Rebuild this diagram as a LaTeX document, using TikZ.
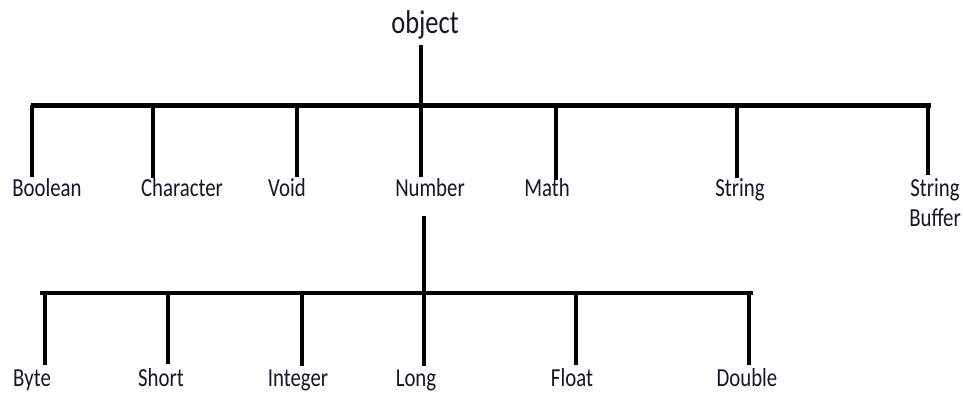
\documentclass[tikz,border=0pt]{standalone}
\usepackage{fontspec}
\usepackage{graphicx}
\setmainfont{Carlito}
\definecolor{ink}{RGB}{22,22,42}
\newcommand\sqz[1]{\scalebox{0.8}[1]{#1}}
\begin{document}
\begin{tikzpicture}[x=1pt,y=-1pt,
  lbl/.style={anchor=base,inner sep=0pt,text=ink,font=\fontsize{26}{30}\selectfont},
  toplbl/.style={anchor=base,inner sep=0pt,text=ink,font=\fontsize{33}{36}\selectfont},
  bar/.style={line width=5pt},
  stem/.style={line width=3.6pt}]
\useasboundingbox[fill=white] (0,0) rectangle (963,392);

% root
\node[toplbl] (object) at (425,33) {\sqz{object}};
\coordinate (objBot) at (421,45);
\coordinate (jNum) at (421,105);
\coordinate (barL) at (31,105);
\coordinate (barR) at (931,105);

% level 1 junctions and stem ends
\coordinate (jBool) at (32,105);   \coordinate (eBool) at (32,177);
\coordinate (jChar) at (153,105);  \coordinate (eChar) at (153,178);
\coordinate (jVoid) at (297,105);  \coordinate (eVoid) at (297,177);
\coordinate (eNum) at (421,177);
\coordinate (jMath) at (556,105);  \coordinate (eMath) at (556,180);
\coordinate (jStr) at (737,105);   \coordinate (eStr) at (737,178);
\coordinate (jSB) at (928,105);    \coordinate (eSB) at (928,175);

\node[lbl] (Boolean) at (47,196) {\sqz{Boolean}};
\node[lbl] (Character) at (182,196) {\sqz{Character}};
\node[lbl] (Void) at (287,196) {\sqz{Void}};
\node[lbl] (Number) at (430,196) {\sqz{Number}};
\node[lbl] (Math) at (547,196) {\sqz{Math}};
\node[lbl] (String) at (740,196) {\sqz{String}};
\node[lbl] (SBa) at (935,196) {\sqz{String}};
\node[lbl] (SBb) at (935,226) {\sqz{Buffer}};

\draw[stem] (objBot) -- (jNum);
\draw[bar] (barL) -- (barR);
\draw[stem] (jBool) -- (eBool);
\draw[stem] (jChar) -- (eChar);
\draw[stem] (jVoid) -- (eVoid);
\draw[stem] (jNum) -- (eNum);
\draw[stem] (jMath) -- (eMath);
\draw[stem] (jStr) -- (eStr);
\draw[stem] (jSB) -- (eSB);

% level 2
\coordinate (numBot) at (424,216);
\coordinate (jLong) at (424,293);
\coordinate (bar2L) at (40,293);
\coordinate (bar2R) at (753,293);
\coordinate (jByte) at (45,293);    \coordinate (eByte) at (45,365);
\coordinate (jShort) at (168,293);  \coordinate (eShort) at (168,364);
\coordinate (jInt) at (302,293);    \coordinate (eInt) at (302,366);
\coordinate (eLong) at (424,366);
\coordinate (jFloat) at (576,293);  \coordinate (eFloat) at (576,365);
\coordinate (jDouble) at (749,293); \coordinate (eDouble) at (749,365);

\node[lbl] (Byte) at (32,386) {\sqz{Byte}};
\node[lbl] (Short) at (161,386) {\sqz{Short}};
\node[lbl] (Integer) at (298,386) {\sqz{Integer}};
\node[lbl] (Long) at (416,386) {\sqz{Long}};
\node[lbl] (Float) at (572,386) {\sqz{Float}};
\node[lbl] (Double) at (747,386) {\sqz{Double}};

\draw[stem] (numBot) -- (jLong);
\draw[line width=4.2pt] (bar2L) -- (bar2R);
\draw[stem] (jByte) -- (eByte);
\draw[stem] (jShort) -- (eShort);
\draw[stem] (jInt) -- (eInt);
\draw[stem] (jLong) -- (eLong);
\draw[stem] (jFloat) -- (eFloat);
\draw[stem] (jDouble) -- (eDouble);
\end{tikzpicture}
\end{document}
